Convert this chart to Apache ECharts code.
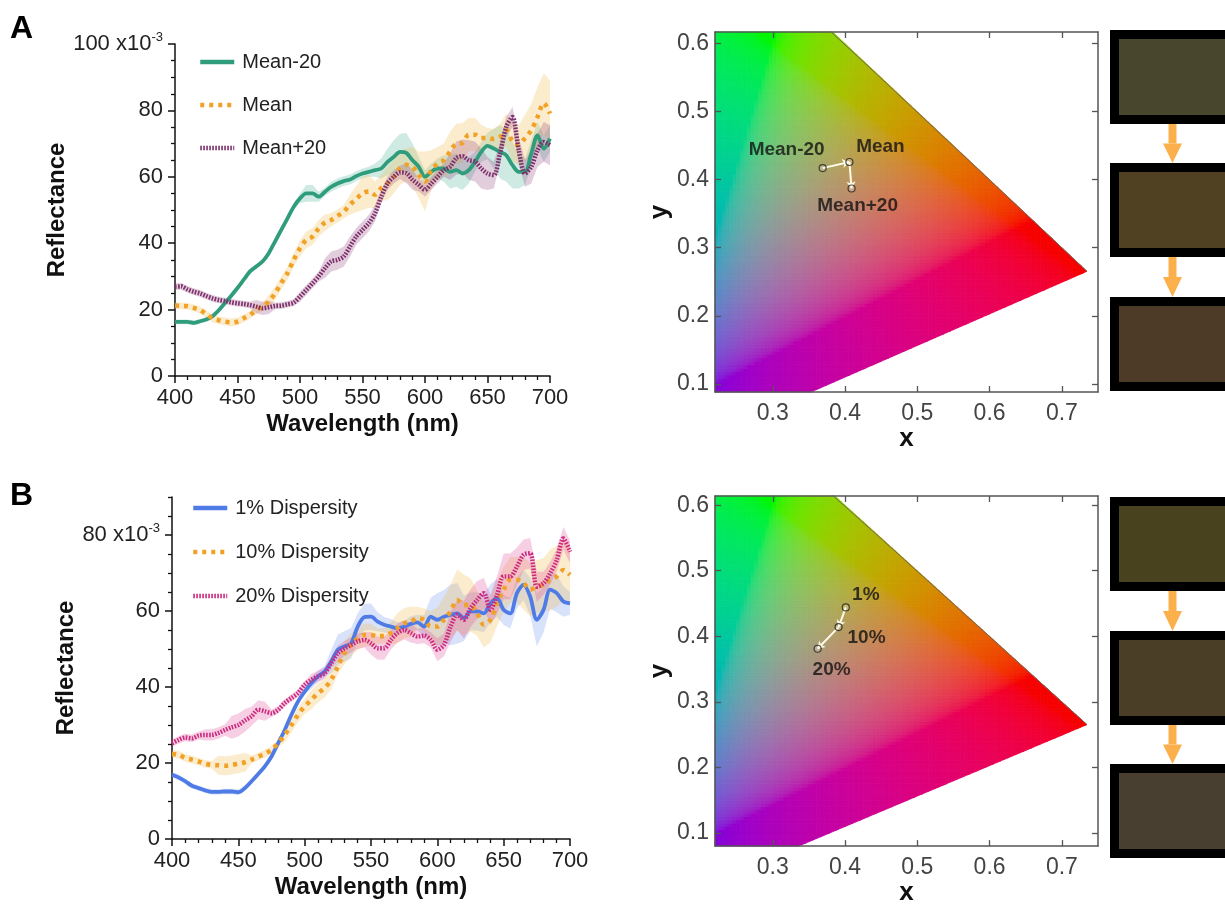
<!DOCTYPE html>
<html>
<head>
<meta charset="utf-8">
<script src="https://cdn.jsdelivr.net/npm/echarts@6/dist/echarts.min.js"></script>
<style>
  html, body { margin: 0; padding: 0; background: #fff; }
  #chart { width: 1225px; height: 907px; }
</style>
</head>
<body>
<div id="chart"></div>
<script>
// ---------- spectra (reflectance, x10^-3) ----------
const wavelengths = [
  400,405,410,415,420,425,430,435,440,445,
  450,455,460,465,470,475,480,485,490,495,
  500,505,510,515,520,525,530,535,540,545,
  550,555,560,565,570,575,580,585,590,595,
  600,605,610,615,620,625,630,635,640,645,
  650,655,660,665,670,675,680,685,690,695,
  700
];

// Panel A
const meanMinus20 = [
  16.3,16.3,16.3,16.0,16.5,17.0,18.0,19.8,22.0,24.2,
  26.5,29.0,31.5,33.0,34.5,37.0,40.5,44.0,47.5,51.0,
  53.5,55.0,55.0,54.0,55.5,57.0,58.0,58.7,59.2,60.2,
  61.0,61.5,62.0,62.5,64.5,66.0,67.5,67.2,65.0,63.0,
  60.0,61.5,62.5,62.5,61.5,62.0,61.0,62.0,64.5,67.5,
  69.3,68.5,67.5,66.5,63.5,61.5,61.5,67.0,72.5,68.5,
  71.5
];
const meanMinus20Spread = [
  0.7,0.7,0.7,0.7,0.7,0.7,0.7,0.7,0.7,0.7,
  0.7,0.7,0.7,0.7,0.7,0.7,0.7,0.7,0.7,0.7,
  1.5,2.5,2.5,1.5,1.2,1.5,1.5,1.5,1.5,1.5,
  1.5,1.5,2,3,4,5,5.5,6,5,3,
  2,2.5,3,4,5,5,5,4,3,3,
  4,6,8,8,7,5,4,4,4,4,
  4
];
const meanCurve = [
  21.2,21.1,21.0,20.5,19.9,18.6,17.4,16.8,16.4,16.1,
  16.4,17.4,18.4,19.9,20.9,22.4,24.9,28.0,31.0,35.0,
  38.5,41.0,42.0,44.5,46.2,47.0,48.2,49.5,51.6,53.3,
  55.0,55.6,54.6,56.6,58.0,60.0,62.6,63.6,63.0,60.6,
  58.6,62.0,64.0,65.0,67.6,70.0,70.2,72.7,72.7,71.7,
  71.7,71.4,72.0,74.0,70.7,69.6,71.7,74.0,78.0,82.2,
  79.0
];
const meanSpread = [
  1,1,1,1,1,1.2,1.2,1.2,1.2,1.2,
  1.2,1.2,1.2,1.2,1.2,2,2,2,2,2,
  2.5,2.5,2.5,2.5,2.5,2,2,2,3,4,
  5,5,4,4,5,5,5,5,6,7,
  9,6,5,5,6,6,6,5,5,4,
  3,3,4,5,6,6,7,8,9,9,
  10
];
const meanPlus20 = [
  26.9,27.0,26.1,25.4,24.9,24.1,23.4,22.9,22.6,22.2,
  21.9,21.7,21.4,20.9,20.4,20.7,21.1,21.2,21.6,22.1,
  23.9,25.9,27.9,30.0,32.5,34.5,35.0,36.0,39.0,42.0,
  44.0,46.0,49.0,54.0,58.0,60.0,61.3,61.1,59.1,57.6,
  56.1,58.0,60.0,62.0,63.0,65.6,66.2,65.0,64.6,62.5,
  61.0,60.5,67.0,75.0,78.0,68.0,61.0,63.0,68.0,70.5,
  69.5
];
const meanPlus20Spread = [
  1,1,1,1,1,1,1,1,1,1,
  1,1,1,2,2,2,1,1,1,1,
  1.5,1.5,1.5,1.5,3,3,3,3,3,2.5,
  2.5,2.5,2.5,2,2,2,2,3,3,2,
  2,2,2,2,4,5,5,6,6,6,
  5,4,3,3,3,4,4,5,5,6,
  6
];

// Panel B
const disp1 = [
  16.9,16.2,15.2,14.0,13.4,12.8,12.4,12.4,12.5,12.5,
  12.3,13.4,15.2,17.1,19.1,21.7,25.2,28.7,32.7,36.2,
  38.8,41.0,42.8,44.1,46.7,49.8,50.7,51.5,55.9,58.4,
  58.5,57.2,56.4,55.9,55.5,55.9,56.6,57.0,55.9,58.5,
  57.7,58.5,59.0,59.4,58.1,59.9,59.9,59.4,62.0,63.4,
  60.3,59.4,64.7,66.9,63.8,57.7,60.3,65.6,64.7,62.5,
  62.0
];
const disp1Spread = [
  0.7,0.7,0.7,0.7,0.7,0.7,0.7,0.7,0.7,0.7,
  0.7,0.7,0.7,0.7,0.7,0.7,0.7,0.7,0.7,0.7,
  0.7,1.5,1.5,1.5,3,4,4,4,3.5,3.5,
  3.5,2.5,2,2,1.5,1.5,2,2,3,5,
  7,7,8,8,6,5,5,5,5,5,
  4,4,4,4,5,7,6,5,5,4,
  3
];
const disp10 = [
  22.4,22.2,21.3,20.9,20.4,19.8,19.5,19.4,19.3,19.5,
  19.8,20.2,20.9,21.7,22.4,23.5,25.2,27.4,30.0,32.7,
  34.9,36.6,38.4,39.7,41.9,45.4,48.9,51.1,52.8,53.7,
  53.7,53.3,53.5,54.2,55.5,56.8,57.2,58.1,57.7,55.9,
  55.9,57.7,59.9,62.9,61.6,61.6,59.4,56.4,57.7,62.0,
  65.6,68.2,68.2,67.3,65.6,66.4,66.9,68.2,69.1,70.8,
  69.5
];
const disp10Spread = [
  1,1,1,1,1,1,1,2.5,2.5,2.5,
  2.5,2.5,1,1,1,1,1,2,2,2,
  2,2.5,2.5,2.5,2.5,2,3,3,3,3,
  3,2,2,3,4,4,4,3,3,4,
  5,6,7,8,8,7,6,6,6,6,
  6,6,6,7,7,7,7,8,8,8,
  8
];
const disp20 = [
  25.2,26.1,26.7,26.5,27.2,27.4,27.4,27.9,28.7,29.4,
  30.0,31.2,32.3,34.0,33.6,33.1,34.0,35.8,37.1,38.4,
  40.6,41.9,42.8,43.6,46.3,48.9,50.2,51.1,52.0,52.4,
  51.5,50.2,50.2,52.4,54.2,55.0,54.2,53.3,53.5,52.4,
  49.8,51.1,55.9,59.0,57.7,60.7,62.9,64.7,60.3,64.2,
  69.1,69.1,71.7,74.8,75.2,66.4,67.3,69.9,73.4,79.1,
  75.6
];
const disp20Spread = [
  1,1,1,1,1,1.5,1.5,1.5,1.5,3,
  3,3,2.5,2.5,2.5,1,1,1,1,1,
  1,1.5,1.5,1.5,1.5,2,2,2,2,2,
  3,3,3,2.5,2.5,2.5,2.5,2,2,2,
  3,3,4,4,5,5,5,4,4,5,
  6,6,5,4,4,4,3,3,3,3,
  3
];

// ---------- tick labels ----------
const reflTicksA = [0, 20, 40, 60, 80, 100];
const reflTicksB = [0, 20, 40, 60, 80];
const reflMinorTicksB = [5, 10, 15, 25, 30, 35, 45, 50, 55, 65, 70, 75, 85, 90];
const chromaXTicks = [0.3, 0.4, 0.5, 0.6, 0.7];
const chromaYTicks = [0.1, 0.2, 0.3, 0.4, 0.5, 0.6];

// ---------- CIE 1931 chromaticity ----------
// spectral locus, 550-700 nm
const locusX = [0.3016, 0.3731, 0.4441, 0.5125, 0.5752, 0.6270, 0.6658, 0.6915, 0.7079, 0.7190, 0.7260, 0.7347];
const locusY = [0.6923, 0.6245, 0.5547, 0.4866, 0.4242, 0.3725, 0.3340, 0.3083, 0.2920, 0.2809, 0.2740, 0.2653];
// region enclosed by the locus and the line of purples (counter-clockwise)
const gamutVertices = [[0.0, 0.005], [0.1741, 0.005], [0.7347, 0.2653], [0.0, 1.0]];

const chromaNamesA = ['Mean-20', 'Mean', 'Mean+20'];
const chromaXA = [0.369, 0.406, 0.409];
const chromaYA = [0.417, 0.426, 0.387];
const chromaNamesB = ['1%', '10%', '20%'];
const chromaXB = [0.401, 0.391, 0.362];
const chromaYB = [0.444, 0.414, 0.381];

// rendered colours of the samples
const swatchColorsA = ['#48462d', '#4f4121', '#4d3a27'];
const swatchColorsB = ['#49421f', '#4a3f26', '#483f31'];

// ---------- styling ----------
const FONT = "'Liberation Sans', Arial, Helvetica, sans-serif";
const AXIS_BLACK = '#111';
const chromaLabelOffsetsA = [[-36, -18], [31, -15], [6, 17]];
const chromaLabelOffsetsB = [[20, -13], [28, 11], [14, 21]];

function pairs(xs, ys) { return xs.map((x, i) => [x, ys[i]]); }

// spread band drawn as one polygon through the axis scales
function band(xi, yi, center, spread, color) {
  return {
    type: 'custom', xAxisIndex: xi, yAxisIndex: yi, silent: true, z: 1,
    data: [[wavelengths[0], center[0]]],
    renderItem: function (params, api) {
      const up = [], low = [];
      for (let i = 0; i < wavelengths.length; i++) {
        up.push(api.coord([wavelengths[i], center[i] + spread[i]]));
        low.push(api.coord([wavelengths[i], center[i] - spread[i]]));
      }
      return {
        type: 'polygon',
        shape: { points: up.concat(low.reverse()) },
        style: { fill: color }
      };
    }
  };
}

function curve(name, xi, yi, values, color, width, dash) {
  return {
    name: name, type: 'line', xAxisIndex: xi, yAxisIndex: yi, z: 3,
    data: pairs(wavelengths, values), showSymbol: false, symbol: 'none',
    smooth: 0.3,
    lineStyle: { color: color, width: width, type: dash || 'solid', cap: 'butt' },
    itemStyle: { color: color }
  };
}

// xy chromaticity -> display colour (sRGB primaries, equal-sum normalisation)
function chromaColor(x, y) {
  const X = x / y, Y = 1, Z = (1 - x - y) / y;
  let r = 3.2406 * X - 1.5372 * Y - 0.4986 * Z;
  let g = -0.9689 * X + 1.8758 * Y + 0.0415 * Z;
  let b = 0.0557 * X - 0.2040 * Y + 1.0570 * Z;
  r = Math.max(r, 0); g = Math.max(g, 0); b = Math.max(b, 0);
  const s = r + g + b || 1;
  const enc = v => {
    v = Math.min(1, v / s * 0.92);
    v = v <= 0.0031308 ? 12.92 * v : 1.055 * Math.pow(v, 1 / 2.4) - 0.055;
    return Math.round(255 * v);
  };
  return 'rgb(' + enc(r) + ',' + enc(g) + ',' + enc(b) + ')';
}

function intersect(p, q, a, b) {
  const x1 = p[0], y1 = p[1], x2 = q[0], y2 = q[1];
  const x3 = a[0], y3 = a[1], x4 = b[0], y4 = b[1];
  const den = (x1 - x2) * (y3 - y4) - (y1 - y2) * (x3 - x4);
  const t = ((x1 - x3) * (y3 - y4) - (y1 - y3) * (x3 - x4)) / den;
  return [x1 + t * (x2 - x1), y1 + t * (y2 - y1)];
}
function clipPoly(poly, clipper) {
  let out = poly;
  for (let i = 0; i < clipper.length && out.length; i++) {
    const a = clipper[i], b = clipper[(i + 1) % clipper.length];
    const inside = p => (b[0] - a[0]) * (p[1] - a[1]) - (b[1] - a[1]) * (p[0] - a[0]) >= 0;
    const inp = out; out = [];
    for (let j = 0; j < inp.length; j++) {
      const cur = inp[j], prev = inp[(j + inp.length - 1) % inp.length];
      const cIn = inside(cur), pIn = inside(prev);
      if (cIn) { if (!pIn) out.push(intersect(prev, cur, a, b)); out.push(cur); }
      else if (pIn) out.push(intersect(prev, cur, a, b));
    }
  }
  return out;
}

// colour field of the chromaticity plane, tiled in small cells
function chromaField(xi, yi, xmin, xmax, ymin, ymax) {
  const step = 0.005;
  const cells = [];
  for (let x = xmin; x < xmax; x += step) {
    for (let y = ymin; y < ymax; y += step) {
      const cell = [[x, y], [Math.min(x + step, xmax), y], [Math.min(x + step, xmax), Math.min(y + step, ymax)], [x, Math.min(y + step, ymax)]];
      const poly = clipPoly(cell, gamutVertices);
      if (poly.length >= 3) cells.push(poly);
    }
  }
  return {
    type: 'custom', xAxisIndex: xi, yAxisIndex: yi, silent: true, z: 0,
    progressive: 0, animation: false,
    data: cells.map(c => [c[0][0], c[0][1]]),
    renderItem: function (params, api) {
      const poly = cells[params.dataIndex];
      let cx = 0, cy = 0;
      poly.forEach(p => { cx += p[0]; cy += p[1]; });
      cx /= poly.length; cy /= poly.length;
      const col = chromaColor(cx, cy);
      return {
        type: 'polygon',
        shape: { points: poly.map(p => api.coord(p)) },
        style: { fill: col, stroke: col, lineWidth: 0.8 }
      };
    }
  };
}

function locusLine(xi, yi) {
  return {
    type: 'line', xAxisIndex: xi, yAxisIndex: yi, silent: true, z: 2,
    data: pairs(locusX, locusY), showSymbol: false, symbol: 'none',
    clip: true, lineStyle: { color: '#6a6a5a', width: 1 }
  };
}

function shiftArrows(xi, yi, xs, ys) {
  const data = [];
  for (let i = 0; i < xs.length - 1; i++) {
    data.push({ coords: [[xs[i], ys[i]], [xs[i + 1], ys[i + 1]]] });
  }
  return {
    type: 'lines', coordinateSystem: 'cartesian2d', xAxisIndex: xi, yAxisIndex: yi,
    silent: true, z: 4, data: data,
    symbol: ['none', 'arrow'], symbolSize: 7,
    lineStyle: { color: '#fffbe8', width: 2, opacity: 1 }
  };
}

function chromaPoints(xi, yi, names, xs, ys, offsets) {
  return {
    type: 'scatter', xAxisIndex: xi, yAxisIndex: yi, z: 5, silent: true,
    symbol: 'circle', symbolSize: 7,
    itemStyle: { color: 'rgba(255,255,255,0.25)', borderColor: '#222', borderWidth: 1.2 },
    data: names.map((n, i) => ({
      value: [xs[i], ys[i]],
      label: {
        show: true, formatter: n, position: 'inside', offset: offsets[i],
        fontFamily: FONT, fontSize: 19, fontWeight: 'bold', color: '#111'
      }
    }))
  };
}

// ---------- axes ----------
function wavelengthAxis(grid) {
  return {
    gridIndex: grid, type: 'value', min: 400, max: 700, interval: 50,
    axisLine: { show: true, onZero: false, lineStyle: { color: AXIS_BLACK, width: 1.5 } },
    axisTick: { show: true, inside: false, length: 7, lineStyle: { color: AXIS_BLACK, width: 1.5 } },
    minorTick: { show: true, splitNumber: 5, length: 4, lineStyle: { color: AXIS_BLACK, width: 1.3 } },
    splitLine: { show: false }, minorSplitLine: { show: false },
    axisLabel: { fontFamily: FONT, fontSize: 22, color: '#222', margin: 11 },
    name: 'Wavelength (nm)', nameLocation: 'middle', nameGap: 36,
    nameTextStyle: { fontFamily: FONT, fontSize: 24, fontWeight: 'bold', color: AXIS_BLACK }
  };
}
const expRich = {
  n: { fontFamily: FONT, fontSize: 22, color: '#222' },
  s: { fontFamily: FONT, fontSize: 13, color: '#222', padding: [0, 0, 14, 0] }
};
function chromaX(grid, top) {
  return {
    gridIndex: grid, type: 'value', min: 0.22, max: 0.75, position: top ? 'top' : 'bottom',
    axisLine: { show: true, onZero: false, lineStyle: { color: '#555', width: 1.5 } },
    axisTick: { show: true, inside: true, length: 6, customValues: chromaXTicks, lineStyle: { color: '#555', width: 1.3 } },
    axisLabel: top ? { show: false } : { customValues: chromaXTicks, fontFamily: FONT, fontSize: 23, color: '#444', margin: 10,
      formatter: v => v.toFixed(1) },
    splitLine: { show: false },
    name: top ? '' : 'x', nameLocation: 'middle', nameGap: 27,
    nameTextStyle: { fontFamily: FONT, fontSize: 26, fontWeight: 'bold', color: AXIS_BLACK }
  };
}
function chromaY(grid, right, ymin, ymax) {
  return {
    gridIndex: grid, type: 'value', min: ymin, max: ymax, position: right ? 'right' : 'left',
    axisLine: { show: true, onZero: false, lineStyle: { color: '#555', width: 1.5 } },
    axisTick: { show: true, inside: true, length: 6, customValues: chromaYTicks, lineStyle: { color: '#555', width: 1.3 } },
    axisLabel: right ? { show: false } : { customValues: chromaYTicks, fontFamily: FONT, fontSize: 23, color: '#444', margin: 6,
      formatter: v => v.toFixed(1) },
    splitLine: { show: false },
    name: right ? '' : 'y', nameLocation: 'middle', nameGap: 37,
    nameTextStyle: { fontFamily: FONT, fontSize: 26, fontWeight: 'bold', color: AXIS_BLACK }
  };
}

const xAxes = [
  wavelengthAxis(0),            // 0
  chromaX(1, false),            // 1
  chromaX(1, true),             // 2
  wavelengthAxis(2),            // 3
  chromaX(3, false),            // 4
  chromaX(3, true)              // 5
];
const yAxes = [
  { // 0: panel A reflectance
    gridIndex: 0, type: 'value', min: 0, max: 100, interval: 20,
    axisLine: { show: true, onZero: false, lineStyle: { color: AXIS_BLACK, width: 1.5 } },
    axisTick: { show: true, inside: false, length: 7, lineStyle: { color: AXIS_BLACK, width: 1.5 } },
    minorTick: { show: true, splitNumber: 4, length: 4, lineStyle: { color: AXIS_BLACK, width: 1.3 } },
    splitLine: { show: false }, minorSplitLine: { show: false },
    axisLabel: { customValues: reflTicksA, margin: 12, rich: expRich,
      formatter: v => v === 100 ? '{n|100 x10}{s|-3}' : '{n|' + v + '}' },
    name: 'Reflectance', nameLocation: 'middle', nameGap: 62,
    nameTextStyle: { fontFamily: FONT, fontSize: 24, fontWeight: 'bold', color: AXIS_BLACK }
  },
  chromaY(1, false, 0.088, 0.617), // 1
  chromaY(1, true, 0.088, 0.617),  // 2
  { // 3: panel B reflectance
    gridIndex: 2, type: 'value', min: 0, max: 90, position: 'left',
    axisLine: { show: true, onZero: false, lineStyle: { color: AXIS_BLACK, width: 1.5 } },
    axisTick: { show: true, inside: false, length: 7, customValues: reflTicksB, lineStyle: { color: AXIS_BLACK, width: 1.5 } },
    splitLine: { show: false },
    axisLabel: { customValues: reflTicksB, margin: 12, rich: expRich,
      formatter: v => v === 80 ? '{n|80 x10}{s|-3}' : '{n|' + v + '}' },
    name: 'Reflectance', nameLocation: 'middle', nameGap: 66,
    nameTextStyle: { fontFamily: FONT, fontSize: 24, fontWeight: 'bold', color: AXIS_BLACK }
  },
  { // 4: panel B minor ticks, sharing the left axis line
    gridIndex: 2, type: 'value', min: 0, max: 90, position: 'left', offset: 0,
    axisLine: { show: false, onZero: false },
    axisTick: { show: true, inside: false, length: 4, customValues: reflMinorTicksB, lineStyle: { color: AXIS_BLACK, width: 1.3 } },
    axisLabel: { show: false }, splitLine: { show: false }
  },
  chromaY(3, false, 0.080, 0.614), // 5
  chromaY(3, true, 0.080, 0.614)   // 6
];

const series = [
  band(0, 0, meanMinus20, meanMinus20Spread, 'rgba(70,175,145,0.26)'),
  band(0, 0, meanCurve, meanSpread, 'rgba(245,185,80,0.28)'),
  band(0, 0, meanPlus20, meanPlus20Spread, 'rgba(140,60,120,0.26)'),
  curve('Mean-20', 0, 0, meanMinus20, '#2f9c7b', 3.8),
  curve('Mean', 0, 0, meanCurve, '#f0a126', 4.5, [4, 5]),
  curve('Mean+20', 0, 0, meanPlus20, '#7e2f6c', 4.5, [1.6, 1.4]),

  band(3, 3, disp1, disp1Spread, 'rgba(100,140,240,0.25)'),
  band(3, 3, disp10, disp10Spread, 'rgba(245,185,80,0.28)'),
  band(3, 3, disp20, disp20Spread, 'rgba(225,70,150,0.26)'),
  curve('1% Dispersity', 3, 3, disp1, '#4f7be6', 3.8),
  curve('10% Dispersity', 3, 3, disp10, '#f0a126', 4.5, [4, 5]),
  curve('20% Dispersity', 3, 3, disp20, '#cc2a7e', 4.5, [1.6, 1.4]),

  chromaField(1, 1, 0.22, 0.75, 0.088, 0.617),
  locusLine(1, 1),
  shiftArrows(1, 1, chromaXA, chromaYA),
  chromaPoints(1, 1, chromaNamesA, chromaXA, chromaYA, chromaLabelOffsetsA),

  chromaField(4, 5, 0.22, 0.75, 0.080, 0.614),
  locusLine(4, 5),
  shiftArrows(4, 5, chromaXB, chromaYB),
  chromaPoints(4, 5, chromaNamesB, chromaXB, chromaYB, chromaLabelOffsetsB)
];

// ---------- sample swatches ----------
function swatchColumn(colors, tops) {
  const els = [];
  colors.forEach((c, i) => {
    const t = tops[i];
    els.push({ type: 'rect', shape: { x: 1110, y: t, width: 130, height: 94 }, style: { fill: '#000' } });
    els.push({ type: 'rect', shape: { x: 1119, y: t + 9, width: 121, height: 76 }, style: { fill: c } });
    if (i < colors.length - 1) {
      const y0 = t + 94, y1 = tops[i + 1];
      els.push({ type: 'rect', shape: { x: 1168.5, y: y0, width: 8, height: (y1 - y0) * 0.5 }, style: { fill: '#fbb04c' } });
      els.push({ type: 'polygon', shape: { points: [[1163, y0 + (y1 - y0) * 0.5], [1182, y0 + (y1 - y0) * 0.5], [1172.5, y1]] }, style: { fill: '#fbb04c' } });
    }
  });
  return els;
}

const legendBase = {
  orient: 'vertical', itemWidth: 34, itemHeight: 14, selectedMode: false,
  itemStyle: { opacity: 0 },
  lineStyle: { width: 4.5 },
  textStyle: { fontFamily: FONT, fontSize: 20, color: '#222', lineHeight: 20, padding: [0, 0, 0, 3] }
};

const option = {
  animation: false,
  backgroundColor: '#fff',
  textStyle: { fontFamily: FONT },
  grid: [
    { left: 175, top: 44, width: 375, height: 332 },
    { left: 715, top: 32, width: 383, height: 360 },
    { left: 172, top: 497, width: 398, height: 342 },
    { left: 715, top: 496, width: 383, height: 363 }
  ],
  xAxis: xAxes,
  yAxis: yAxes,
  legend: [
    Object.assign({}, legendBase, { data: ['Mean-20', 'Mean', 'Mean+20'], left: 193, top: 47, itemGap: 23 }),
    Object.assign({}, legendBase, { data: ['1% Dispersity', '10% Dispersity', '20% Dispersity'], left: 186, top: 493, itemGap: 24 })
  ],
  graphic: [
    { type: 'text', left: 10, top: 13, style: { text: 'A', fontFamily: FONT, fontSize: 32, fontWeight: 'bold', fill: '#000' } },
    { type: 'text', left: 10, top: 480, style: { text: 'B', fontFamily: FONT, fontSize: 32, fontWeight: 'bold', fill: '#000' } },
    { type: 'group', silent: true, children: swatchColumn(swatchColorsA, [30, 163, 297]) },
    { type: 'group', silent: true, children: swatchColumn(swatchColorsB, [497, 631, 764]) }
  ],
  series: series
};

const chart = echarts.init(document.getElementById('chart'), null, { renderer: 'canvas' });
chart.setOption(option);
</script>
</body>
</html>
